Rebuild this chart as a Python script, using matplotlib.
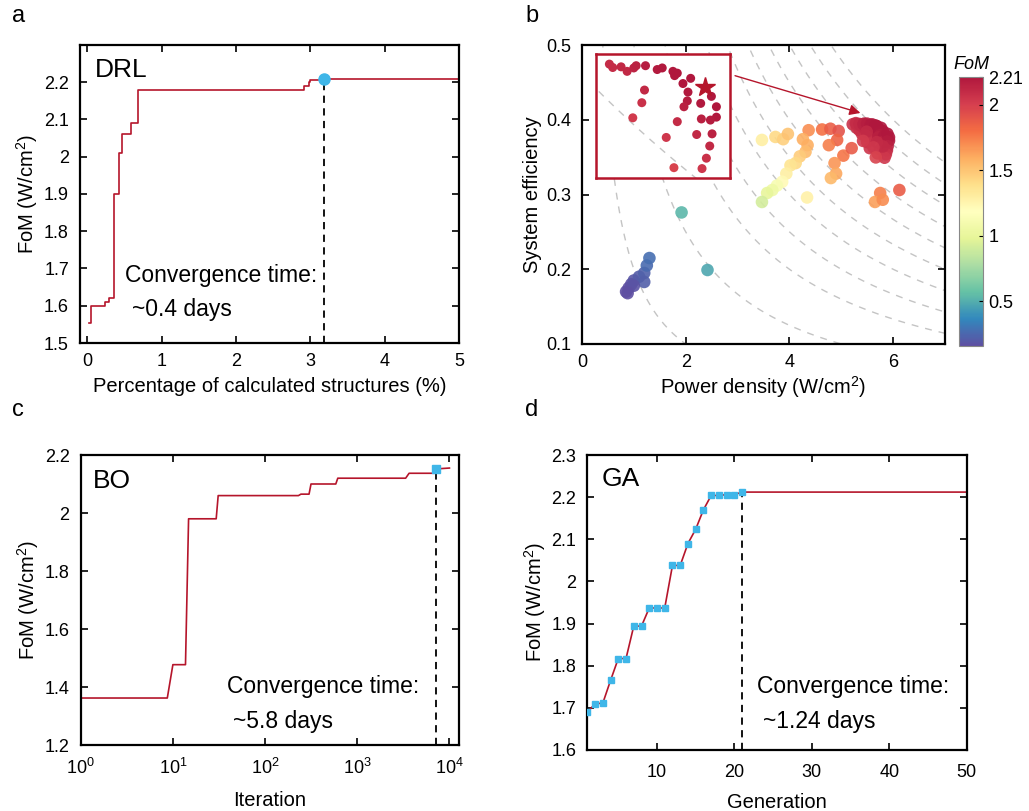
import numpy as np
import matplotlib
matplotlib.use("Agg")
import matplotlib.pyplot as plt
from matplotlib.colors import LinearSegmentedColormap

plt.rcParams['font.family'] = ['Liberation Sans', 'DejaVu Sans']
plt.rcParams.update({'xtick.direction': 'in', 'ytick.direction': 'in',
                     'xtick.top': True, 'ytick.right': True,
                     'xtick.major.size': 5, 'ytick.major.size': 5,
                     'xtick.major.width': 1.2, 'ytick.major.width': 1.2,
                     'xtick.major.pad': 7, 'ytick.major.pad': 8,
                     'xtick.labelsize': 13, 'ytick.labelsize': 13,
                     'axes.labelsize': 14.5, 'axes.linewidth': 1.6,
                     'axes.labelpad': 2.5,
                     'mathtext.default': 'regular'})

RED = '#b5152b'
BLUE = '#3fb6e8'
GREY = '#c4c4c4'
cmap = LinearSegmentedColormap.from_list('fom', ['#5e4fa2', '#3288bd', '#66c2a5', '#abdda4', '#e6f598',
                                                 '#ffffbf', '#fee08b', '#fdae61', '#f46d43',
                                                 '#d53e4f', '#b0173d'])

# ---- panel a : DRL
drl_pct = [0.02, 0.05, 0.23, 0.29, 0.355, 0.42, 0.47, 0.59, 0.68, 2.92, 2.98, 3.0, 3.18, 5.0]
drl_fom = [1.555, 1.6, 1.61, 1.62, 1.9, 2.01, 2.06, 2.09, 2.18, 2.19, 2.2, 2.205, 2.21, 2.21]
drl_conv = (3.18, 2.21)

# ---- panel b : scatter (power density, efficiency, FoM)
pd_pts = [3.47, 3.73, 3.88, 3.97, 4.37, 4.26, 4.35, 4.31, 4.2, 4.12, 4.02, 3.94, 3.86, 3.76, 3.67,
          3.57, 3.47, 4.63, 4.79, 4.95, 4.92, 4.76, 5.04, 5.2, 4.87, 4.9, 4.8, 4.34, 5.75, 5.65,
          5.8, 6.12,
          0.85, 0.9, 0.95, 1.0, 1.1, 1.2, 1.25, 1.3, 1.2, 1.0, 0.88, 1.92, 2.42]
eff_pts = [0.373, 0.377, 0.374, 0.381, 0.386, 0.374, 0.366, 0.357, 0.351, 0.342, 0.339, 0.328,
           0.317, 0.312, 0.306, 0.302, 0.29, 0.387, 0.388, 0.385, 0.373, 0.366, 0.352, 0.362,
           0.342, 0.328, 0.322, 0.296, 0.302, 0.29, 0.293, 0.306,
           0.17, 0.175, 0.18, 0.185, 0.19, 0.195, 0.205, 0.215, 0.183, 0.178, 0.168, 0.276, 0.199]
fom_pts = [1.29, 1.41, 1.45, 1.51, 1.69, 1.59, 1.59, 1.54, 1.47, 1.41, 1.36, 1.29, 1.22, 1.12,
           1.05, 1.0, 0.92, 1.79, 1.86, 1.91, 1.84, 1.74, 1.77, 1.88, 1.67, 1.61, 1.55, 1.28,
           1.74, 1.64, 1.70, 1.87,
           0.16, 0.16, 0.17, 0.19, 0.21, 0.23, 0.26, 0.28, 0.22, 0.18, 0.16, 0.53, 0.48]

# best cluster (also shown zoomed in the inset)
pd_best = [5.28, 5.30, 5.35, 5.386, 5.426, 5.44, 5.496, 5.566, 5.596, 5.66, 5.67, 5.686, 5.72,
           5.766, 5.75, 5.746, 5.726, 5.826, 5.83, 5.89, 5.92, 5.92, 5.884, 5.894, 5.88, 5.86,
           5.834, 5.802, 5.686, 5.62, 5.666, 5.474, 5.49, 5.42]
eff_best = [0.3955, 0.394, 0.3943, 0.3923, 0.3938, 0.3948, 0.3948, 0.3931, 0.3938, 0.3923,
            0.3904, 0.3915, 0.3869, 0.3892, 0.3831, 0.3792, 0.3766, 0.3781, 0.3712, 0.3812,
            0.3766, 0.372, 0.3707, 0.3646, 0.3592, 0.3538, 0.3492, 0.3643, 0.37, 0.363, 0.3496,
            0.3784, 0.384, 0.3717]
fom_best = [2.09, 2.09, 2.11, 2.11, 2.14, 2.15, 2.17, 2.19, 2.2, 2.21, 2.21, 2.21, 2.21, 2.21,
            2.2, 2.18, 2.16, 2.2, 2.16, 2.21, 2.21, 2.2, 2.18, 2.15, 2.11, 2.07, 2.04, 2.11,
            2.1, 2.04, 1.98, 2.07, 2.11, 2.02]
# extra structures filling the core of the cluster
pd_core = [5.3, 5.4, 5.35, 5.55, 5.6, 5.65, 5.5, 5.55, 5.75, 5.7, 5.8, 5.22, 5.45]
eff_core = [0.389, 0.381, 0.386, 0.385, 0.375, 0.38, 0.37, 0.362, 0.36, 0.355, 0.385, 0.394, 0.388]
fom_core = [2.08, 2.08, 2.08, 2.16, 2.12, 2.16, 2.06, 2.05, 2.08, 2.04, 2.2, 2.06, 2.12]
star_pt = (5.85, 0.3855)
iso_fom = [0.2, 0.5, 0.8, 1.0, 1.2, 1.4, 1.6, 1.8, 2.0, 2.2, 2.4]
inset_iso = [2.0]
fom_min, fom_max = 0.16, 2.21

# ---- panel c : BO
bo_iter = [1, 8.7, 10, 13.7, 14.8, 29.5, 31, 230, 245, 300, 315, 585, 615, 3350, 3650, 6900, 7170, 10000]
bo_fom = [1.362, 1.362, 1.477, 1.477, 1.98, 1.98, 2.06, 2.06, 2.065, 2.065, 2.1, 2.1, 2.12, 2.12,
          2.137, 2.137, 2.152, 2.155]
bo_conv = (7170, 2.152)

# ---- panel d : GA
ga_gen = list(range(1, 22))
ga_fom = [1.689, 1.71, 1.711, 1.765, 1.817, 1.817, 1.894, 1.894, 1.937, 1.937, 1.937, 2.038,
          2.038, 2.09, 2.124, 2.17, 2.204, 2.204, 2.206, 2.206, 2.212]
ga_end = 50

fig = plt.figure(figsize=(10.29, 8.11), dpi=100)
W, H = 1029, 811
def box(l, t, r, b):
    return [l / W, 1 - b / H, (r - l) / W, (b - t) / H]

txt = dict(fontsize=16.5)

# a
ax = fig.add_axes(box(80, 45, 459, 343))
ax.step(drl_pct, drl_fom, where='post', color=RED, lw=1.2)
ax.plot([drl_conv[0]] * 2, [1.5, drl_conv[1]], 'k--', lw=1.3, dashes=(4, 3))
ax.plot(*drl_conv, 'o', color=BLUE, ms=8, zorder=5)
ax.set_xlim(-0.1, 5)
ax.set_ylim(1.5, 2.3)
ax.set_xticks(range(6))
ax.set_yticks(np.arange(1.5, 2.25, 0.1))
ax.set_yticklabels(['1.5', '1.6', '1.7', '1.8', '1.9', '2', '2.1', '2.2'])
ax.set_xlabel('Percentage of calculated structures (%)', labelpad=5)
ax.set_ylabel('FoM (W/cm$^2$)')
ax.text(0.04, 0.916, 'DRL', transform=ax.transAxes, fontsize=19, va='center')
ax.text(0.119, 0.228, 'Convergence time:', transform=ax.transAxes, va='center', **txt)
ax.text(0.137, 0.111, '~0.4 days', transform=ax.transAxes, va='center', **txt)

# b
ax = fig.add_axes(box(582, 45, 945, 344))
xs = np.linspace(0.05, 7, 400)
for c in iso_fom:
    ax.plot(xs, c / xs, '--', color=GREY, lw=1, dashes=(5, 5), zorder=0)
kw = dict(cmap=cmap, vmin=fom_min, vmax=fom_max, edgecolors='none')
sc = ax.scatter(pd_pts, eff_pts, c=fom_pts, s=82, alpha=0.9, zorder=2, **kw)
ax.scatter(pd_core, eff_core, c=fom_core, s=82, alpha=0.9, zorder=2, **kw)
ax.scatter(pd_best, eff_best, c=fom_best, s=82, alpha=0.9, zorder=2, **kw)
ax.set_xlim(0, 7)
ax.set_ylim(0.1, 0.5)
ax.set_xticks([0, 2, 4, 6])
ax.set_yticks([0.1, 0.2, 0.3, 0.4, 0.5])
ax.set_xlabel('Power density (W/cm$^2$)')
ax.set_ylabel('System efficiency')

ins = ax.inset_axes([0.27, 0.322, 2.58, 0.166], transform=ax.transData)
xi = np.linspace(5.1, 6.1, 200)
for c in inset_iso:
    ins.plot(xi, c / xi, '--', color=GREY, lw=1, dashes=(5, 5), zorder=0)
ins.scatter(pd_best, eff_best, c=fom_best, s=42, zorder=2, **kw)
ins.plot(*star_pt, marker='*', color=RED, ms=15, zorder=3)
ins.set_xlim(5.2, 6.0)
ins.set_ylim(0.345, 0.4)
ins.set_xticks([])
ins.set_yticks([])
for s in ins.spines.values():
    s.set_color(RED)
    s.set_linewidth(1.8)
ax.annotate('', xy=(5.42, 0.408), xytext=(2.9, 0.46),
            arrowprops=dict(arrowstyle='-|>', color=RED, lw=1, mutation_scale=16))

cax = fig.add_axes(box(959, 77, 983, 346))
cb = fig.colorbar(sc, cax=cax)
cb.solids.set_alpha(1)
cb.set_ticks([0.5, 1, 1.5, 2, 2.21])
cb.set_ticklabels(['0.5', '1', '1.5', '2', '2.21'])
cb.outline.set_edgecolor('#888888')
cb.outline.set_linewidth(0.8)
cax.tick_params(direction='in', length=3, width=0.8, labelsize=13, pad=4)
cax.set_title('FoM', fontstyle='italic', fontsize=13, pad=6)

# c
ax = fig.add_axes(box(80.7, 455, 459, 745))
ax.plot(bo_iter, bo_fom, color=RED, lw=1.2)
ax.plot([bo_conv[0]] * 2, [1.2, bo_conv[1]], 'k--', lw=1.3, dashes=(4, 3))
ax.plot(*bo_conv, 's', color=BLUE, ms=6, zorder=5)
ax.set_xscale('log')
ax.set_xlim(1, 1.27e4)
ax.set_ylim(1.2, 2.2)
ax.set_xticks([1, 10, 100, 1000, 10000])
ax.minorticks_off()
ax.set_yticks([1.2, 1.4, 1.6, 1.8, 2.0, 2.2])
ax.set_yticklabels(['1.2', '1.4', '1.6', '1.8', '2', '2.2'])
ax.tick_params(axis='x', pad=9)
ax.set_xlabel('Iteration', labelpad=10)
ax.set_ylabel('FoM (W/cm$^2$)')
ax.text(0.0325, 0.91, 'BO', transform=ax.transAxes, fontsize=19, va='center')
ax.text(0.386, 0.201, 'Convergence time:', transform=ax.transAxes, va='center', **txt)
ax.text(0.403, 0.08, '~5.8 days', transform=ax.transAxes, va='center', **txt)

# d
ax = fig.add_axes(box(587.3, 455, 966.7, 750))
ax.plot(ga_gen + [ga_end], ga_fom + [ga_fom[-1]], color=RED, lw=1.2)
ax.plot(ga_gen, ga_fom, 's', color=BLUE, ms=4, zorder=5)
ax.plot([ga_gen[-1]] * 2, [1.6, ga_fom[-1]], 'k--', lw=1.3, dashes=(4, 3))
ax.set_xlim(1, 50)
ax.set_ylim(1.6, 2.3)
ax.set_xticks([10, 20, 30, 40, 50])
ax.set_yticks(np.arange(1.6, 2.35, 0.1))
ax.set_yticklabels(['1.6', '1.7', '1.8', '1.9', '2', '2.1', '2.2', '2.3'])
ax.tick_params(axis='x', pad=10)
ax.set_xlabel('Generation', labelpad=9)
ax.set_ylabel('FoM (W/cm$^2$)')
ax.text(0.038, 0.919, 'GA', transform=ax.transAxes, fontsize=19, va='center')
ax.text(0.446, 0.215, 'Convergence time:', transform=ax.transAxes, va='center', **txt)
ax.text(0.463, 0.096, '~1.24 days', transform=ax.transAxes, va='center', **txt)

for lab, x, y in [('a', 12, 16), ('b', 525, 16), ('c', 12, 410), ('d', 525, 410)]:
    fig.text(x / W, 1 - y / H, lab, fontsize=17, va='center', ha='left')

fig.savefig('out.png', dpi=100)
